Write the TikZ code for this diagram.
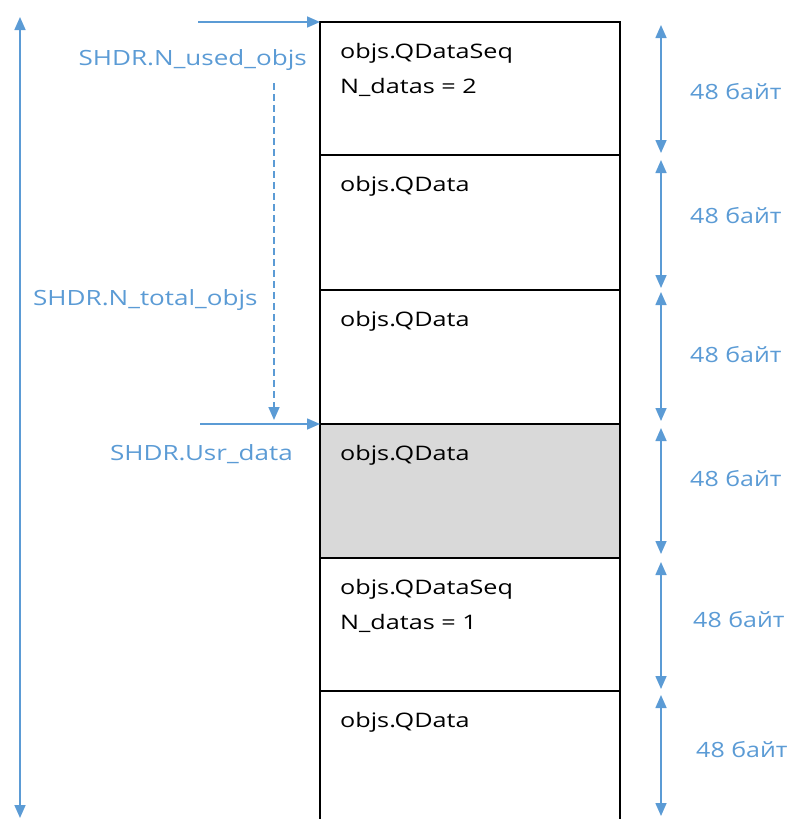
\documentclass[tikz,border=0pt]{standalone}
\usepackage{fontspec}
\setmainfont{Open Sans}
\newfontfamily\cellfont[FakeStretch=1.26]{Open Sans}
\newfontfamily\lblfont[FakeStretch=1.24]{Open Sans}
\newfontfamily\sizefont[FakeStretch=1.19]{Open Sans}
\usetikzlibrary{arrows.meta,calc}
\definecolor{memblue}{RGB}{91,155,213}
\definecolor{memgray}{RGB}{217,217,217}
\tikzset{
  cell/.style={draw=black, line width=2pt, minimum width=300pt, anchor=north west,
    inner sep=0pt, outer sep=0pt},
  celltext/.style={anchor=base west, inner sep=0pt, align=left, font=\cellfont\fontsize{20}{35}\selectfont},
  ptr/.style={draw=memblue, line width=1.6pt, -{Triangle[length=13pt,width=11pt]}},
  span/.style={draw=memblue, line width=1.6pt, {Triangle[length=13pt,width=11pt]}-{Triangle[length=13pt,width=11pt]}},
  lbl/.style={text=memblue, inner sep=0pt, font=\lblfont\fontsize{21}{25}\selectfont},
  sizelbl/.style={text=memblue, inner sep=0pt, anchor=base west, font=\sizefont\fontsize{21}{25}\selectfont},
}
\begin{document}
\begin{tikzpicture}[x=1pt,y=-1pt]
\useasboundingbox (0,0) rectangle (787,819);

% memory cells
\node[cell, minimum height=133pt] (b1) at (320,22) {};
\node[cell, minimum height=135pt] (b2) at (320,155) {};
\node[cell, minimum height=134pt] (b3) at (320,290) {};
\node[cell, minimum height=134pt, fill=memgray] (b4) at (320,424) {};
\node[cell, minimum height=133pt] (b5) at (320,558) {};
\node[cell, minimum height=140pt] (b6) at (320,691) {};

% cell contents
\node[celltext] (t1) at (340,58) {objs.QDataSeq};
\node[celltext] (t1b) at (340,93) {N\_datas = 2};
\node[celltext] (t2) at (340,191) {objs.QData};
\node[celltext] (t3) at (340,326) {objs.QData};
\node[celltext] (t4) at (340,460) {objs.QData};
\node[celltext] (t5) at (340,594) {objs.QDataSeq};
\node[celltext] (t5b) at (340,629) {N\_datas = 1};
\node[celltext] (t6) at (340,727) {objs.QData};

% header pointers
\coordinate (u0) at (198,22);
\draw[ptr] (u0) -- (b1.north west);
\node[lbl, anchor=base east] (lu) at (307,65) {SHDR.N\_used\_objs};

\coordinate (d0) at (274,83);
\coordinate (d1) at (274,420);
\draw[ptr, dash pattern=on 7pt off 4pt] (d0) -- (d1);
\node[lbl, anchor=base west] (lt) at (33,305) {SHDR.N\_total\_objs};

\coordinate (r0) at (200,424);
\draw[ptr] (r0) -- (b4.north west);
\node[lbl, anchor=base east] (lr) at (293,460) {SHDR.Usr\_data};

% whole area extent
\coordinate (a0) at (20,17);
\coordinate (a1) at (20,818);
\draw[span] (a0) -- (a1);

% cell sizes
\foreach \i/\ya/\yb/\yt/\xt in {1/25/153/99/690, 2/160/288/223/690, 3/292/421/362/690, 4/428/554/486/690, 5/562/689/627/693, 6/695/816/757/696}{
  \coordinate (s\i a) at (661,\ya);
  \coordinate (s\i b) at (661,\yb);
  \draw[span] (s\i a) -- (s\i b);
  \node[sizelbl] (sz\i) at (\xt,\yt) {48 байт};
}
\end{tikzpicture}
\end{document}
